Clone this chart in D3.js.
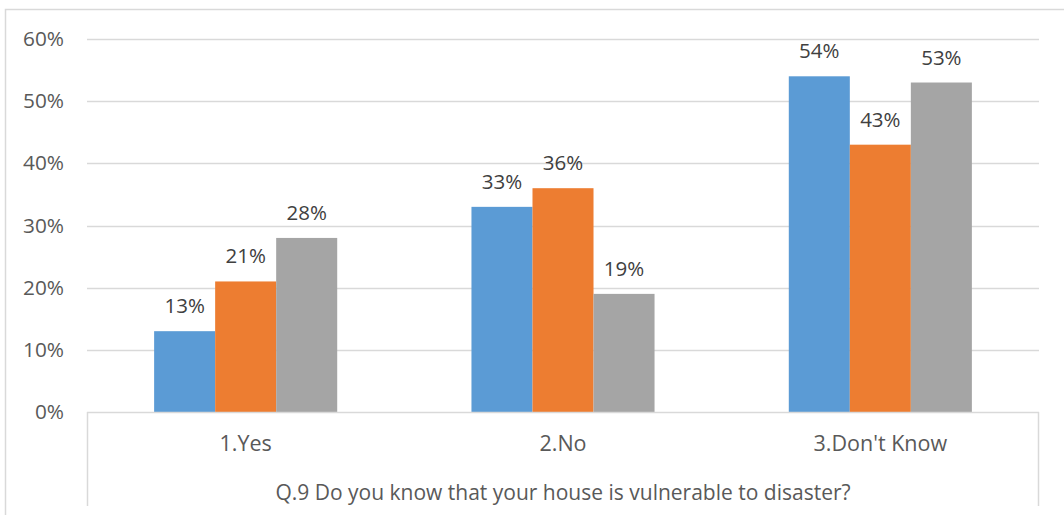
<!DOCTYPE html>
<html>
<head>
<meta charset="utf-8">
<script src="https://cdn.jsdelivr.net/npm/d3@7"></script>
<style>
  html, body { margin: 0; padding: 0; background: #fff; }
  svg { display: block; }
  text { font-family: "Open Sans", "Noto Sans", sans-serif; }
</style>
</head>
<body>
<svg id="chart" width="1064" height="515"></svg>
<script>
// Survey responses, share of respondents per answer
const categories = ["1.Yes", "2.No", "3.Don't Know"];
const seriesNames = ["Group A", "Group B", "Group C"];
const groupA = [13, 33, 54];
const groupB = [21, 36, 43];
const groupC = [28, 19, 53];
const yTicks = [0, 10, 20, 30, 40, 50, 60];
const axisTitle = "Q.9 Do you know that your house is vulnerable to disaster?";

const seriesValues = [groupA, groupB, groupC];
const colors = ["#5B9BD5", "#ED7D31", "#A5A5A5"];

const svg = d3.select("#chart");
const plot = { left: 87, right: 1039, top: 39, bottom: 412 };

// outer chart frame
svg.append("rect")
  .attr("x", 5.5).attr("y", 9.5)
  .attr("width", 1070).attr("height", 520)
  .attr("fill", "none").attr("stroke", "#D9D9D9").attr("stroke-width", 1.5);

const x = d3.scaleBand().domain(categories).range([plot.left, plot.right]).padding(0);
const inner = d3.scaleBand().domain(seriesNames)
  .range([0, x.bandwidth()]).paddingInner(0).paddingOuter(1.1);
const y = d3.scaleLinear().domain([0, 60]).range([plot.bottom, plot.top]);

// gridlines
svg.append("g")
  .selectAll("line")
  .data(yTicks.filter(t => t > 0))
  .join("line")
  .attr("x1", plot.left).attr("x2", plot.right)
  .attr("y1", d => Math.round(y(d)) + 0.5).attr("y2", d => Math.round(y(d)) + 0.5)
  .attr("stroke", "#D9D9D9").attr("stroke-width", 1.5);

// y axis labels
const yAxis = svg.append("g")
  .attr("transform", `translate(${plot.left - 23},0)`)
  .call(d3.axisLeft(y).tickValues(yTicks).tickFormat(d => d + "%").tickSize(0).tickPadding(0));
yAxis.select(".domain").remove();
yAxis.selectAll("text")
  .attr("fill", "#595959").attr("font-size", 20.8)
  .style("font-family", "'Open Sans', sans-serif");

// bars
const groups = svg.append("g")
  .selectAll("g")
  .data(seriesNames.map((name, i) => ({ name, values: seriesValues[i], color: colors[i] })))
  .join("g")
  .attr("fill", d => d.color);

groups.selectAll("rect")
  .data(d => d.values.map((v, j) => ({ name: d.name, cat: categories[j], v })))
  .join("rect")
  .attr("x", d => x(d.cat) + inner(d.name))
  .attr("width", inner.bandwidth())
  .attr("y", d => y(d.v))
  .attr("height", d => y(0) - y(d.v));

// value labels
groups.selectAll("text")
  .data(d => d.values.map((v, j) => ({ name: d.name, cat: categories[j], v })))
  .join("text")
  .attr("x", d => x(d.cat) + inner(d.name) + inner.bandwidth() / 2)
  .attr("y", d => y(d.v) - 18)
  .attr("text-anchor", "middle")
  .attr("fill", "#404040").attr("font-size", 20.5)
  .text(d => d.v + "%");

// category axis frame
const axisBox = svg.append("g").attr("stroke", "#D9D9D9").attr("stroke-width", 1.5).attr("fill", "none");
axisBox.append("line").attr("x1", plot.left).attr("x2", plot.right).attr("y1", plot.bottom + 0.5).attr("y2", plot.bottom + 0.5);
axisBox.append("line").attr("x1", plot.left + 0.5).attr("x2", plot.left + 0.5).attr("y1", plot.bottom).attr("y2", 506);
axisBox.append("line").attr("x1", plot.right - 0.5).attr("x2", plot.right - 0.5).attr("y1", plot.bottom).attr("y2", 506);

// category labels
const xAxis = svg.append("g")
  .attr("transform", `translate(0,${plot.bottom})`)
  .call(d3.axisBottom(x).tickSize(0).tickPadding(23.5));
xAxis.select(".domain").remove();
xAxis.selectAll("text")
  .attr("fill", "#595959").attr("font-size", 21.5)
  .style("font-family", "'Open Sans', sans-serif");

// outer category title
svg.append("text")
  .attr("x", (plot.left + plot.right) / 2)
  .attr("y", 500)
  .attr("text-anchor", "middle")
  .attr("fill", "#595959").attr("font-size", 21)
  .text(axisTitle);
</script>
</body>
</html>
